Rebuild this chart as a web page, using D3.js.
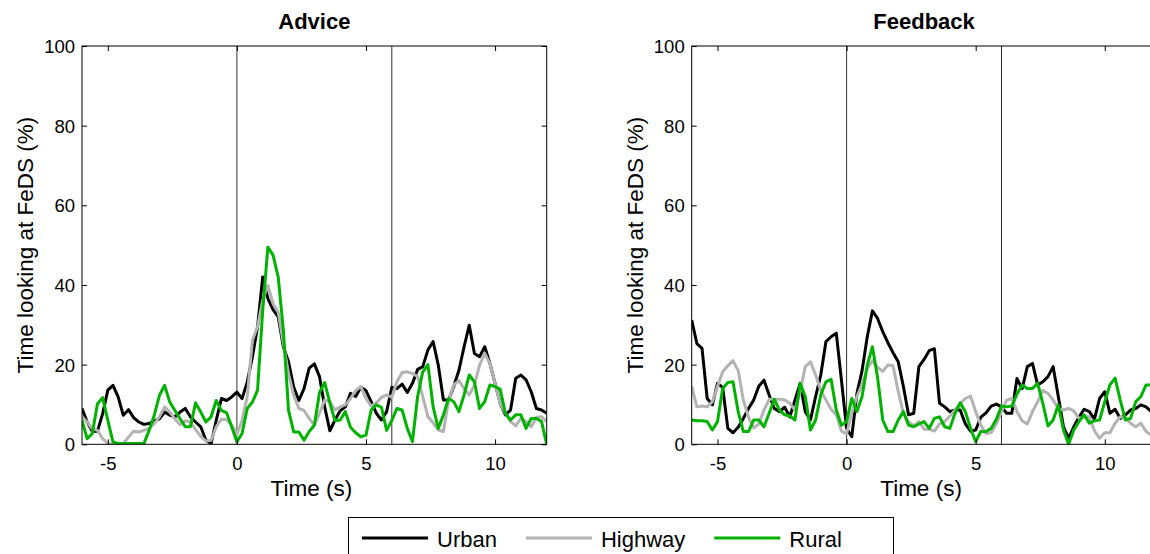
<!DOCTYPE html>
<html>
<head>
<meta charset="utf-8">
<script src="https://cdnjs.cloudflare.com/ajax/libs/d3/7.8.5/d3.min.js"></script>
<style>
  body { margin: 0; background: #fff; }
  svg { display: block; font-family: Arial, "Liberation Sans", sans-serif; }
</style>
</head>
<body>
<div id="chart"></div>
<script>
// time grid, one sample every 0.2 s from -6 to 12
var time = d3.range(91).map(i => Math.round((-6 + i * 0.2) * 10) / 10);

// advice panel
var adviceUrban = [
  9.0, 5.6, 3.3, 3.3, 7.7, 13.6, 14.8, 11.9, 7.3, 8.7,
  6.7, 5.6, 5.0, 5.2, 5.9, 6.4, 8.1, 7.3, 6.9, 8.1,
  9.0, 6.9, 5.6, 4.4, 1.0, 0.2, 6.0, 11.5, 11.0, 11.9,
  13.1, 11.5, 15.6, 21.9, 29.5, 42.0, 36.6, 33.8, 32.0, 24.4,
  20.7, 14.4, 11.0, 14.0, 19.1, 20.2, 17.0, 9.4, 3.4, 6.1,
  8.4, 9.4, 12.8, 12.0, 14.3, 13.5, 10.7, 7.8, 6.1, 8.2,
  14.3, 14.0, 15.1, 13.0, 15.3, 18.8, 19.5, 23.7, 25.8, 19.9,
  11.1, 11.1, 14.5, 18.6, 24.5, 29.9, 22.8, 22.0, 24.5, 20.3,
  15.3, 10.3, 7.4, 8.6, 16.6, 17.4, 16.2, 13.2, 9.0, 8.6,
  7.8
];
var adviceHighway = [
  6.9, 5.6, 3.9, 3.5, 1.4, 0.2, 0, 0, 0.2, 1.8,
  3.3, 3.1, 3.5, 3.9, 5.2, 6.9, 9.4, 8.1, 6.4, 4.9,
  5.9, 5.6, 3.7, 2.0, 0.8, 1.0, 4.4, 6.3, 6.2, 4.8,
  2.5, 6.0, 11.9, 26.1, 29.5, 36.2, 39.9, 35.3, 33.2, 25.3,
  17.7, 12.3, 9.0, 8.5, 6.5, 4.8, 7.8, 11.1, 10.7, 8.6,
  9.4, 9.9, 11.5, 13.5, 14.5, 11.5, 9.6, 10.4, 11.8, 12.4,
  11.8, 15.7, 18.0, 18.2, 17.8, 17.0, 12.0, 6.9, 5.4, 3.6,
  3.2, 11.1, 14.9, 16.0, 14.0, 12.4, 14.9, 19.9, 22.8, 20.3,
  15.3, 10.3, 7.8, 5.7, 4.6, 6.5, 5.7, 4.4, 6.8, 6.9,
  5.7
];
var adviceRural = [
  6.0, 1.4, 2.7, 10.2, 11.7, 6.0, 0.6, 0.2, 0.2, 0.2,
  0.2, 0.2, 0.2, 3.5, 7.3, 12.3, 14.8, 10.6, 8.5, 6.4,
  4.4, 4.4, 10.4, 8.1, 5.6, 6.9, 11.0, 8.5, 7.9, 4.4,
  0.6, 2.7, 9.0, 10.6, 13.6, 33.6, 49.5, 47.5, 42.0, 28.6,
  8.5, 3.1, 3.1, 1.0, 3.2, 4.8, 13.0, 15.5, 10.4, 5.9,
  6.1, 8.2, 4.3, 2.9, 1.9, 2.3, 8.6, 9.9, 9.3, 3.5,
  6.0, 9.0, 8.6, 4.0, 0.7, 12.0, 18.2, 20.0, 9.4, 4.0,
  7.4, 11.5, 10.7, 8.2, 12.4, 17.4, 15.7, 9.0, 10.7, 14.9,
  14.5, 13.8, 7.8, 6.1, 7.4, 7.4, 4.0, 6.5, 6.5, 5.7,
  0
];

// feedback panel
var feedbackUrban = [
  31.2, 25.3, 24.1, 11.5, 9.9, 15.3, 14.3, 4.0, 2.9, 4.3,
  6.5, 9.0, 11.1, 14.6, 16.1, 12.4, 9.0, 8.2, 9.3, 6.9,
  11.1, 15.3, 8.2, 6.1, 12.0, 17.4, 25.8, 27.0, 27.9, 16.1,
  4.0, 1.9, 12.8, 18.5, 27.0, 33.5, 31.6, 28.3, 25.5, 23.0,
  20.7, 14.5, 7.4, 7.8, 19.5, 21.3, 23.5, 24.0, 10.3, 9.4,
  8.2, 8.6, 8.6, 5.1, 3.3, 3.6, 6.8, 7.9, 9.6, 10.1,
  9.4, 7.8, 7.8, 16.5, 14.0, 19.5, 20.3, 14.9, 15.7, 17.0,
  19.5, 12.0, 4.4, 1.5, 4.4, 6.8, 8.8, 8.2, 6.3, 11.5,
  13.2, 7.8, 8.8, 6.5, 7.4, 8.6, 9.0, 9.9, 9.4, 8.2,
  8.6
];
var feedbackHighway = [
  14.6, 9.4, 9.6, 9.4, 10.7, 14.5, 18.2, 19.7, 21.0, 18.5,
  11.1, 6.8, 4.1, 5.1, 8.6, 11.3, 11.3, 11.3, 11.1, 10.3,
  8.6, 13.2, 19.5, 20.7, 17.4, 13.5, 11.1, 8.8, 7.4, 3.3,
  2.7, 7.8, 12.0, 15.1, 19.0, 21.0, 19.3, 18.3, 19.9, 19.7,
  13.2, 7.8, 5.7, 4.6, 5.7, 3.8, 3.8, 3.3, 5.1, 5.7,
  7.1, 8.6, 10.3, 11.5, 12.1, 8.2, 4.8, 2.7, 2.9, 5.1,
  8.2, 11.1, 11.5, 8.2, 5.9, 5.1, 8.2, 10.7, 13.5, 12.8,
  11.1, 9.0, 8.6, 9.0, 8.4, 6.5, 6.9, 6.9, 3.4, 1.5,
  2.9, 2.9, 5.3, 6.9, 6.8, 5.3, 4.4, 5.3, 3.2, 2.3,
  2.7
];
var feedbackRural = [
  6.1, 5.9, 5.9, 5.7, 3.6, 5.7, 14.0, 15.5, 15.7, 8.2,
  3.2, 3.2, 6.1, 6.1, 4.4, 7.8, 11.3, 8.6, 7.4, 7.1,
  6.1, 15.3, 12.0, 3.6, 6.1, 12.4, 15.7, 16.3, 8.6, 4.8,
  5.7, 11.5, 8.2, 12.0, 19.9, 24.5, 16.8, 6.1, 3.2, 3.2,
  6.1, 8.2, 4.8, 4.4, 5.1, 5.7, 4.0, 6.5, 6.9, 4.4,
  4.0, 7.8, 10.4, 8.2, 4.0, 0.7, 3.2, 3.2, 4.0, 6.3,
  9.6, 9.4, 9.6, 12.6, 14.9, 14.0, 14.0, 15.3, 10.3, 4.6,
  6.1, 9.9, 3.6, 0, 3.6, 5.7, 7.4, 5.3, 5.9, 6.1,
  10.7, 14.9, 16.6, 11.1, 6.1, 6.5, 10.7, 12.0, 14.9, 14.9,
  13.6
];

var panelTitles = ["Advice", "Feedback"];
var seriesNames = ["Urban", "Highway", "Rural"];
var seriesColors = ["#000000", "#b3b3b3", "#00b300"];
var xTicks = [-5, 0, 5, 10];
var yTicks = [0, 20, 40, 60, 80, 100];
var markerTimes = [0, 6];

var panels = [
  [adviceUrban, adviceHighway, adviceRural],
  [feedbackUrban, feedbackHighway, feedbackRural]
];

// svg container
var svgWidth = 1150;
var svgHeight = 554;

var svg = d3.select("#chart").append("svg")
  .attr("width", svgWidth)
  .attr("height", svgHeight);

// plot areas (the right one runs past the window edge like the original)
var panelLeft = [82, 691.7];
var panelWidth = 464.7;
var plotTop = 46;
var plotBottom = 444.3;

var yScale = d3.scaleLinear()
  .domain([0, 100])
  .range([plotBottom, plotTop]);

// plain hyphen for negative ticks, like the original
var tickText = d => String(d);

function drawPanel(p) {
  var x0 = panelLeft[p];
  var xScale = d3.scaleLinear()
    .domain([-6, 12])
    .range([x0, x0 + panelWidth]);

  var g = svg.append("g");

  // clip lines to the axes box
  g.append("clipPath")
    .attr("id", "clip" + p)
    .append("rect")
    .attr("x", x0)
    .attr("y", plotTop)
    .attr("width", panelWidth)
    .attr("height", plotBottom - plotTop);

  // vertical markers at 0 and 6 s
  g.selectAll(".marker")
    .data(markerTimes)
    .enter()
    .append("line")
    .attr("x1", d => xScale(d))
    .attr("x2", d => xScale(d))
    .attr("y1", plotTop)
    .attr("y2", plotBottom)
    .attr("stroke", "#333")
    .attr("stroke-width", 1);

  // the three series
  var line = d3.line()
    .x((d, i) => xScale(time[i]))
    .y(d => yScale(d));

  g.append("g")
    .attr("clip-path", "url(#clip" + p + ")")
    .selectAll("path")
    .data(panels[p])
    .enter()
    .append("path")
    .attr("d", line)
    .attr("fill", "none")
    .attr("stroke", (d, i) => seriesColors[i])
    .attr("stroke-width", 3)
    .attr("stroke-linejoin", "round");

  // axes, ticks point inwards on all four sides
  var bottom = g.append("g")
    .attr("transform", `translate(0, ${plotBottom})`)
    .call(d3.axisBottom(xScale).tickValues(xTicks).tickFormat(tickText).tickSizeInner(-5).tickSizeOuter(0).tickPadding(12));
  var top = g.append("g")
    .attr("transform", `translate(0, ${plotTop})`)
    .call(d3.axisTop(xScale).tickValues(xTicks).tickSizeInner(-5).tickSizeOuter(0).tickFormat(""));
  var left = g.append("g")
    .attr("transform", `translate(${x0}, 0)`)
    .call(d3.axisLeft(yScale).tickValues(yTicks).tickFormat(tickText).tickSizeInner(-5).tickSizeOuter(0).tickPadding(7));
  var right = g.append("g")
    .attr("transform", `translate(${x0 + panelWidth}, 0)`)
    .call(d3.axisRight(yScale).tickValues(yTicks).tickSizeInner(-5).tickSizeOuter(0).tickFormat(""));

  [bottom, top, left, right].forEach(function(a) {
    a.select(".domain").remove();
    a.selectAll("line").attr("stroke", "#000");
    a.selectAll("text")
      .attr("fill", "#000")
      .attr("font-size", 18.5)
      .attr("font-family", "Arial, 'Liberation Sans', sans-serif");
  });
  bottom.selectAll("text").attr("dy", "0.72em");
  left.selectAll("text").attr("dy", "0.36em");

  // box
  g.append("rect")
    .attr("x", x0)
    .attr("y", plotTop)
    .attr("width", panelWidth)
    .attr("height", plotBottom - plotTop)
    .attr("fill", "none")
    .attr("stroke", "#000")
    .attr("stroke-width", 1);

  // title
  g.append("text")
    .attr("x", x0 + panelWidth / 2)
    .attr("y", 29)
    .attr("text-anchor", "middle")
    .attr("font-size", 22)
    .attr("font-weight", "bold")
    .text(panelTitles[p]);

  // x label
  g.append("text")
    .attr("x", x0 + panelWidth / 2 - 3)
    .attr("y", 496)
    .attr("text-anchor", "middle")
    .attr("font-size", 22.5)
    .text("Time (s)");

  // y label
  g.append("text")
    .attr("transform", `translate(${x0 - 49}, ${(plotTop + plotBottom) / 2}) rotate(-90)`)
    .attr("text-anchor", "middle")
    .attr("font-size", 22.5)
    .text("Time looking at FeDS (%)");
}

drawPanel(0);
drawPanel(1);

// legend
var legend = svg.append("g");

legend.append("rect")
  .attr("x", 348.5)
  .attr("y", 517.5)
  .attr("width", 545)
  .attr("height", 40)
  .attr("fill", "#fff")
  .attr("stroke", "#000")
  .attr("stroke-width", 1);

var lx = 362;
seriesNames.forEach(function(name, i) {
  legend.append("line")
    .attr("x1", lx)
    .attr("x2", lx + 66)
    .attr("y1", 538)
    .attr("y2", 538)
    .attr("stroke", seriesColors[i])
    .attr("stroke-width", 3);
  var t = legend.append("text")
    .attr("x", lx + 75)
    .attr("y", 546.5)
    .attr("font-size", 22)
    .text(name);
  lx = lx + 75 + t.node().getComputedTextLength() + 29;
});
</script>
</body>
</html>
